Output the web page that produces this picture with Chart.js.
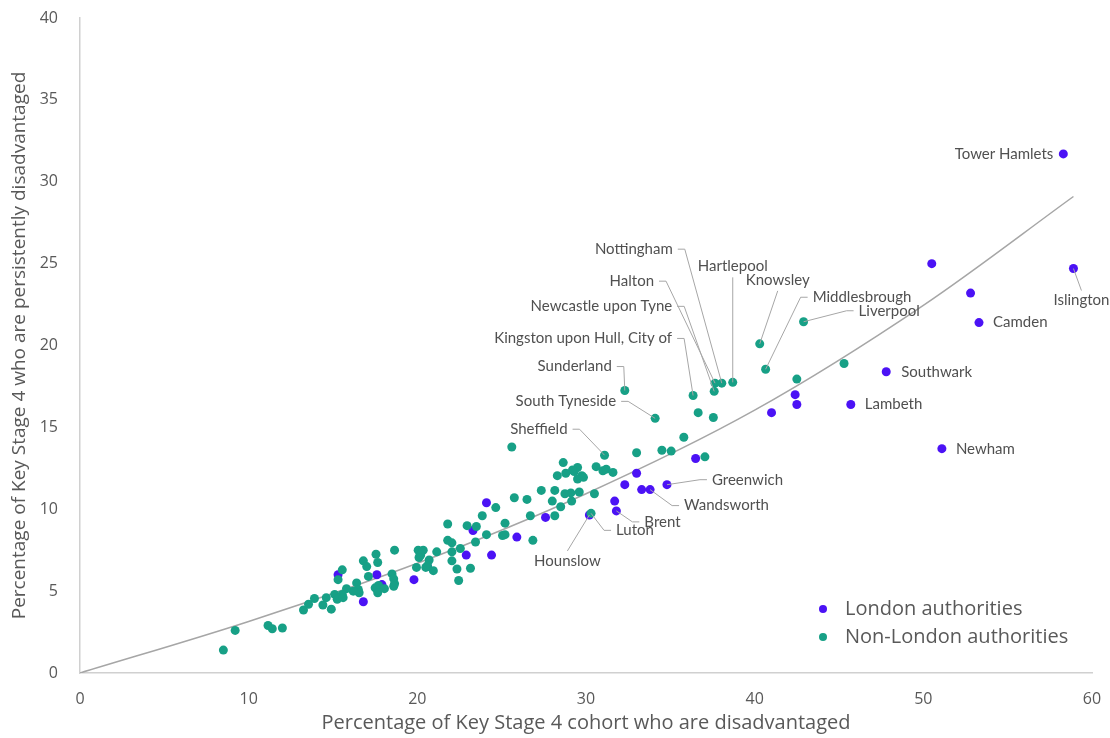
<!DOCTYPE html>
<html lang="en">
<head>
<meta charset="UTF-8">
<title>Disadvantaged vs persistently disadvantaged</title>
<script src="https://cdn.jsdelivr.net/npm/chart.js"></script>
<style>
    body { margin: 0; background: #fff; }
    #wrap { width: 1110px; height: 738px; }
</style>
</head>
<body>
<div id="wrap"><canvas id="chart" width="1110" height="738"></canvas></div>
<script>
// London authorities
const londonX = [58.3, 50.5, 58.9, 52.8, 53.3, 47.8, 42.4, 42.5, 45.7, 41.0, 51.1, 36.5, 33.0, 34.8, 32.3, 33.3,
    33.8, 31.7, 31.8, 30.2, 24.1, 27.6, 23.3, 25.9, 22.9, 24.4, 20.6, 19.8, 15.3, 17.6, 17.9, 16.8];
const londonY = [31.7, 25.0, 24.7, 23.2, 21.4, 18.4, 17.0, 16.4, 16.4, 15.9, 13.7, 13.1, 12.2, 11.5, 11.5, 11.2,
    11.2, 10.5, 9.9, 9.65, 10.4, 9.5, 8.7, 8.3, 7.2, 7.2, 6.5, 5.7, 6.0, 6.0, 5.4, 4.35];
const londonNames = ['Tower Hamlets', '', 'Islington', '', 'Camden', 'Southwark', '', '', 'Lambeth', '', 'Newham',
    '', '', 'Greenwich', '', '', 'Wandsworth', '', 'Brent', 'Hounslow'];

// Non-London authorities
const otherX = [42.9, 40.3, 40.65, 38.7, 38.05, 37.65, 37.6, 36.35, 32.3, 34.1, 31.1, 30.3,
    45.3, 42.5, 36.65, 37.55, 35.8, 34.5, 35.05, 33.0, 37.05, 25.6,
    30.6, 29.5, 29.3, 29.75, 29.5, 29.85, 29.2, 31.0, 31.2, 31.6, 28.65, 28.3, 28.8, 29.6, 29.1, 30.5, 29.15,
    27.35, 28.15, 28.75, 25.75, 26.5, 28.0, 24.65, 23.85, 26.7, 28.15, 28.5, 22.95, 23.5, 21.8, 25.2, 24.1,
    23.45, 25.05, 25.2, 26.85, 21.8, 22.05, 22.55, 21.15, 20.05, 20.25, 20.35, 20.2, 22.05, 18.65, 20.7,
    22.05, 17.55, 16.8, 17.65, 17.0, 19.95, 20.5, 20.6, 20.95, 22.35, 23.15, 22.45, 15.55, 15.3, 17.1, 17.7,
    18.5, 18.6, 18.65, 18.6, 16.4, 16.5, 16.55, 16.2, 17.5, 15.8, 17.65, 18.05, 20.1,
    8.5, 9.2, 11.15, 11.4, 12.0, 13.25, 13.55, 13.9, 14.4, 14.9, 14.6, 15.1, 15.25, 15.55, 15.6];
const otherY = [21.45, 20.1, 18.55, 17.75, 17.7, 17.7, 17.2, 16.95, 17.25, 15.55, 13.3, 9.75,
    18.9, 17.95, 15.9, 15.6, 14.4, 13.6, 13.55, 13.45, 13.2, 13.8,
    12.6, 12.55, 12.3, 12.05, 11.85, 11.95, 12.4, 12.35, 12.45, 12.25, 12.85, 12.05, 12.2, 11.05, 11.0, 10.95, 10.5,
    11.15, 11.15, 10.95, 10.7, 10.6, 10.5, 10.1, 9.6, 9.6, 9.6, 10.15, 9.0, 8.95, 9.1, 9.15, 8.45,
    8.0, 8.4, 8.45, 8.1, 8.1, 7.95, 7.6, 7.4, 7.5, 7.4, 7.5, 7.2, 7.4, 7.5, 6.9,
    6.85, 7.25, 6.85, 6.75, 6.5, 6.45, 6.45, 6.55, 6.25, 6.35, 6.4, 5.65, 6.3, 5.7, 5.9, 5.35,
    6.05, 5.75, 5.45, 5.3, 5.5, 5.1, 4.9, 5.0, 5.2, 5.15, 4.9, 5.15, 7.05,
    1.4, 2.6, 2.9, 2.7, 2.75, 3.85, 4.2, 4.55, 4.15, 3.9, 4.6, 4.8, 4.5, 4.8, 4.6];
const otherNames = ['Liverpool', 'Knowsley', 'Middlesbrough', 'Hartlepool', 'Nottingham', 'Halton',
    'Newcastle upon Tyne', 'Kingston upon Hull, City of', 'Sunderland', 'South Tyneside', 'Sheffield', 'Luton'];

// trend curve
const trendX = [0, 10, 20, 30, 40, 50, 58.9];
const trendY = [0, 3.15, 6.7, 10.95, 16.05, 22.45, 29.1];

const xTicks = [0, 10, 20, 30, 40, 50, 60];
const yTicks = [0, 5, 10, 15, 20, 25, 30, 35, 40];

const legendLabels = ['London authorities', 'Non-London authorities'];

// label placement: [dx, dy, align, leader] in pixels from the point
const labelPlace = {
    'Tower Hamlets': [-10, 0, 'right', false],
    'Islington': [8, 32, 'center', true],
    'Camden': [14, 0, 'left', false],
    'Southwark': [15, 0, 'left', false],
    'Lambeth': [14, 0, 'left', false],
    'Newham': [14, 0, 'left', false],
    'Greenwich': [45, -5, 'left', true],
    'Wandsworth': [34, 16, 'left', true],
    'Brent': [28, 11, 'left', true],
    'Luton': [25, 17, 'left', true],
    'Hounslow': [-22, 46, 'center', true],
    'Sheffield': [-37, -26, 'right', true],
    'South Tyneside': [-39, -17, 'right', true],
    'Sunderland': [-13, -24, 'right', true],
    'Kingston upon Hull, City of': [-21, -57, 'right', true],
    'Newcastle upon Tyne': [-42, -85, 'right', true],
    'Halton': [-61, -102, 'right', true],
    'Nottingham': [-49, -134, 'right', true],
    'Hartlepool': [0, -116, 'center', true],
    'Knowsley': [18, -64, 'center', true],
    'Middlesbrough': [47, -72, 'left', true],
    'Liverpool': [55, -11, 'left', true]
};

const LONDON = '#4b12f5';
const OTHER = '#17a086';
const FONT = 'Lato, "Open Sans", sans-serif';
const AXIS_FONT = '"Open Sans", Lato, sans-serif';

function toPoints(xs, ys) {
    return xs.map((x, i) => ({ x: x, y: ys[i] }));
}

const pointLabels = {
    id: 'pointLabels',
    afterDatasetsDraw(chart) {
        const ctx = chart.ctx;
        const xs = chart.scales.x, ys = chart.scales.y;
        const sets = [[londonX, londonY, londonNames], [otherX, otherY, otherNames]];
        ctx.save();
        ctx.font = '15px ' + FONT;
        ctx.textBaseline = 'middle';
        sets.forEach(([X, Y, N]) => {
            N.forEach((name, i) => {
                if (!name || !labelPlace[name]) return;
                const [dx, dy, align, leader] = labelPlace[name];
                const px = xs.getPixelForValue(X[i]);
                const py = ys.getPixelForValue(Y[i]);
                const tx = px + dx, ty = py + dy;
                if (leader) {
                    ctx.strokeStyle = '#a6a6a6';
                    ctx.lineWidth = 1;
                    ctx.beginPath();
                    if (align === 'right') {
                        ctx.moveTo(tx + 5, ty);
                        ctx.lineTo(tx + 12, ty);
                        ctx.lineTo(px, py);
                    } else if (align === 'left') {
                        ctx.moveTo(tx - 5, ty);
                        ctx.lineTo(tx - 12, ty);
                        ctx.lineTo(px, py);
                    } else {
                        ctx.moveTo(tx, ty + (dy > 0 ? -10 : 11));
                        ctx.lineTo(px, py);
                    }
                    ctx.stroke();
                }
                ctx.fillStyle = '#505050';
                ctx.textAlign = align;
                ctx.fillText(name, tx, ty);
            });
        });
        ctx.restore();
    }
};

const cornerLegend = {
    id: 'cornerLegend',
    afterDraw(chart) {
        const ctx = chart.ctx;
        const colors = [LONDON, OTHER];
        ctx.save();
        ctx.font = '20px ' + AXIS_FONT;
        ctx.textBaseline = 'middle';
        ctx.textAlign = 'left';
        legendLabels.forEach((t, i) => {
            const y = 609 + i * 28;
            ctx.fillStyle = colors[i];
            ctx.beginPath();
            ctx.arc(823, y, 4, 0, Math.PI * 2);
            ctx.fill();
            ctx.fillStyle = '#595959';
            ctx.fillText(t, 845, y);
        });
        ctx.restore();
    }
};

new Chart(document.getElementById('chart'), {
    type: 'scatter',
    data: {
        datasets: [{
            label: legendLabels[0],
            data: toPoints(londonX, londonY),
            backgroundColor: LONDON,
            borderWidth: 0,
            pointRadius: 4.5,
            order: 2
        }, {
            label: legendLabels[1],
            data: toPoints(otherX, otherY),
            backgroundColor: OTHER,
            borderWidth: 0,
            pointRadius: 4.5,
            order: 1
        }, {
            type: 'line',
            label: 'Trend',
            data: toPoints(trendX, trendY),
            borderColor: '#a6a6a6',
            borderWidth: 1.5,
            pointRadius: 0,
            cubicInterpolationMode: 'monotone',
            fill: false,
            order: 3
        }]
    },
    options: {
        responsive: false,
        animation: false,
        layout: { padding: { top: 18, right: 18, left: 0, bottom: 0 } },
        plugins: {
            legend: { display: false },
            tooltip: { enabled: false }
        },
        scales: {
            x: {
                type: 'linear',
                min: 0, max: 60,
                afterFit(scale) {
                    scale.height = 65;
                    scale.paddingLeft = 0;
                    scale.paddingRight = 0;
                },
                afterBuildTicks(scale) { scale.ticks = xTicks.map(v => ({ value: v })); },
                grid: { display: false },
                border: { display: true, color: '#d0d0d0', width: 1.5 },
                ticks: { color: '#595959', font: { family: AXIS_FONT, size: 16 }, padding: 9 },
                title: {
                    display: true,
                    text: 'Percentage of Key Stage 4 cohort who are disadvantaged',
                    color: '#595959',
                    font: { family: AXIS_FONT, size: 20 },
                    padding: { top: 0, bottom: 3 }
                }
            },
            y: {
                type: 'linear',
                min: 0, max: 40,
                afterFit(scale) {
                    scale.width = 80;
                    scale.paddingTop = 0;
                    scale.paddingBottom = 0;
                },
                afterBuildTicks(scale) { scale.ticks = yTicks.map(v => ({ value: v })); },
                grid: { display: false },
                border: { display: true, color: '#d0d0d0', width: 1.5 },
                ticks: { color: '#595959', font: { family: AXIS_FONT, size: 16 }, padding: 14 },
                title: {
                    display: true,
                    text: 'Percentage of Key Stage 4 who are persistently disadvantaged',
                    color: '#595959',
                    font: { family: AXIS_FONT, size: 19 },
                    padding: { top: 8, bottom: 0 }
                }
            }
        }
    },
    plugins: [pointLabels, cornerLegend]
});
</script>
</body>
</html>
